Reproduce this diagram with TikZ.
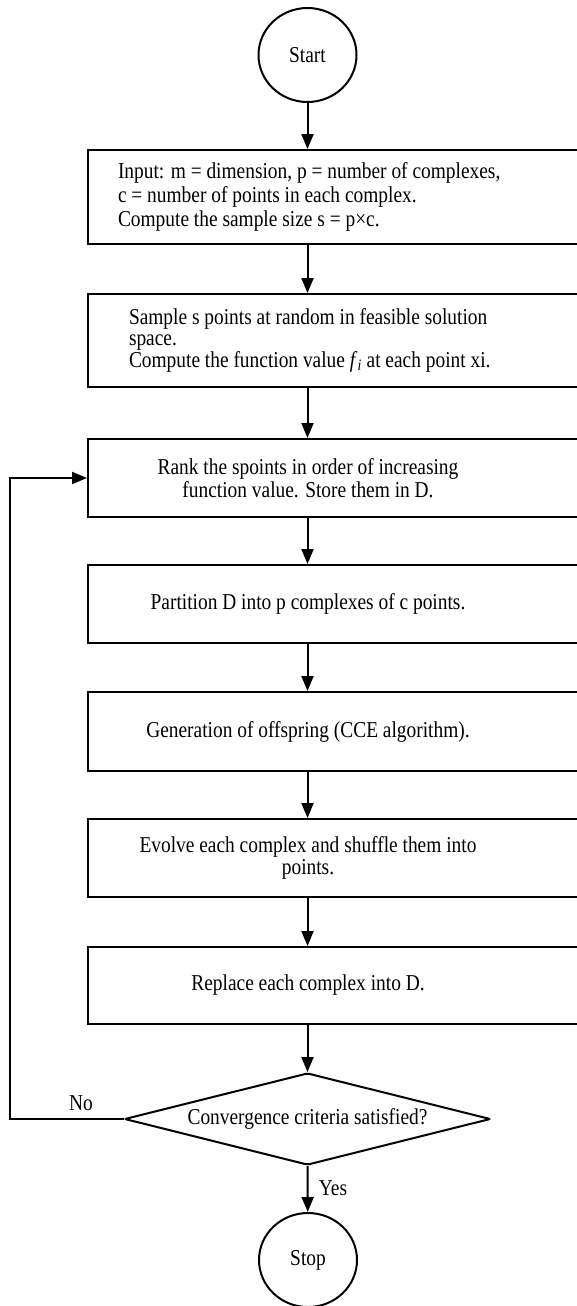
\documentclass[tikz,border=0pt]{standalone}
\usepackage{graphicx}
\usepackage{fontspec}
\setmainfont{Liberation Serif}
\usetikzlibrary{shapes.geometric,arrows.meta}
\tikzset{
  every node/.style={font=\fontsize{19.4pt}{19.2pt}\selectfont},
  ln/.style={line width=2pt},
  arr/.style={ln,-{Triangle[length=15pt,width=12pt]}},
  terminal/.style={ellipse,draw,ln,minimum width=98pt,minimum height=94pt,inner sep=0pt},
  procbox/.style={rectangle,draw,ln,minimum width=492pt,inner sep=0pt},
  decision/.style={diamond,draw,ln,aspect=3.98,minimum width=366pt,minimum height=92pt,inner sep=0pt,rounded corners=2pt},
  plainlbl/.style={inner sep=0pt}
}
\newcommand{\vs}[1]{\scalebox{1}[1.17]{#1}}
\newcommand{\ctext}[1]{\vs{\begin{minipage}{440pt}\centering #1\end{minipage}}\hspace*{52pt}}
\newcommand{\ltext}[2]{\vs{\begin{minipage}{440pt}\raggedright\leftskip=#1 #2\end{minipage}}\hspace*{52pt}}
\begin{document}
\begin{tikzpicture}[x=1pt,y=-1pt]
\useasboundingbox (0,0) rectangle (576,1306);
\node[terminal] (start) at (307.5,55) {\vs{Start}};
\node[procbox,minimum height=94pt,font=\fontsize{19.4pt}{20.6pt}\selectfont] (b1) at (334,197)
  {\ltext{30pt}{Input: m = dimension, p = number of complexes,\\
   c = number of points in each complex.\\
   Compute the sample size s = p×c.}};
\node[procbox,minimum height=93pt,font=\fontsize{19.4pt}{17.3pt}\selectfont] (b2) at (334,340.5)
  {\ltext{41pt}{Sample s points at random in feasible solution\\
   space.\\
   Compute the function value \textit{f}\textsubscript{\textit{i}} at each point xi.}};
\node[procbox,minimum height=78pt] (b3) at (334,478)
  {\ctext{Rank the spoints in order of increasing\\ function value. Store them in D.}};
\node[procbox,minimum height=78pt] (b4) at (334,604)
  {\ctext{Partition D into p complexes of c points.}};
\node[procbox,minimum height=79pt] (b5) at (334,731.5)
  {\ctext{Generation of offspring (CCE algorithm).}};
\node[procbox,minimum height=78pt] (b6) at (334,858)
  {\ctext{Evolve each complex and shuffle them into\\ points.}};
\node[procbox,minimum height=77pt] (b7) at (334,985.5)
  {\ctext{Replace each complex into D.}};
\node[decision] (dia) at (307.5,1119) {\vs{Convergence criteria satisfied?}};
\node[terminal] (stop) at (308,1260) {\vs{Stop}};
\node[plainlbl] (no) at (81,1103) {\vs{No}};
\node[plainlbl] (yes) at (333,1188) {\vs{Yes}};
\coordinate (loop) at (9.5,1119);

\draw[arr] (start) -- (start |- b1.north);
\draw[arr] (b1.south -| start) -- (b2.north -| start);
\draw[arr] (b2.south -| start) -- (b3.north -| start);
\draw[arr] (b3.south -| start) -- (b4.north -| start);
\draw[arr] (b4.south -| start) -- (b5.north -| start);
\draw[arr] (b5.south -| start) -- (b6.north -| start);
\draw[arr] (b6.south -| start) -- (b7.north -| start);
\draw[arr] (b7.south -| start) -- (dia.north);
\draw[arr] (dia.south) -- (stop);
\draw[arr] (dia.west) -- (loop) |- (b3.west);
\end{tikzpicture}
\end{document}
